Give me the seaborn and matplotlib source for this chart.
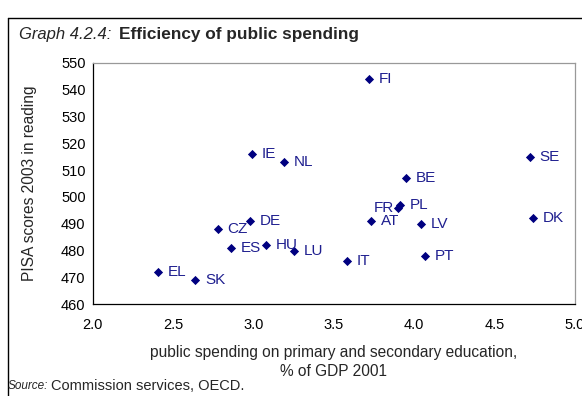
import matplotlib
matplotlib.use("Agg")
import matplotlib.pyplot as plt
import pandas as pd
import seaborn as sns

countries = ["FI", "IE", "NL", "SE", "BE", "FR", "PL", "DE", "AT", "LV", "DK",
             "CZ", "HU", "ES", "LU", "PT", "IT", "EL", "SK"]
spending = [3.72, 2.99, 3.19, 4.72, 3.95, 3.90, 3.91, 2.98, 3.73, 4.04, 4.74,
            2.78, 3.08, 2.86, 3.25, 4.07, 3.58, 2.41, 2.64]
pisa = [544, 516, 513, 515, 507, 496, 497, 491, 491, 490, 492,
        488, 482, 481, 480, 478, 476, 472, 469]

x_ticks = [2.0, 2.5, 3.0, 3.5, 4.0, 4.5, 5.0]
y_ticks = list(range(460, 551, 10))

df = pd.DataFrame({"country": countries, "spending": spending, "pisa": pisa})

sns.set_style("white")
plt.rcParams["font.family"] = ["Liberation Sans", "DejaVu Sans"]

navy = "#000080"
label_col = "#1f1f8f"

fig = plt.figure(figsize=(5.82, 3.96), dpi=100)
ax = fig.add_axes([0.159, 0.232, 0.829, 0.609])

sns.scatterplot(data=df, x="spending", y="pisa", marker="D", s=22,
                color=navy, edgecolor=navy, linewidth=0, ax=ax, legend=False)

for c, xv, yv in zip(countries, spending, pisa):
    if c == "FR":
        ax.annotate(c, (xv, yv), xytext=(-3, 0), textcoords="offset points",
                    ha="right", va="center", fontsize=11, color=label_col)
    else:
        ax.annotate(c, (xv, yv), xytext=(7, 0), textcoords="offset points",
                    ha="left", va="center", fontsize=11, color=label_col)

ax.set_xlim(2.0, 5.0)
ax.set_ylim(460, 550)
ax.set_xticks(x_ticks)
ax.set_xticklabels([f"{t:.1f}" for t in x_ticks])
ax.set_yticks(y_ticks)
ax.tick_params(axis="both", direction="inout", length=6, width=0.8,
               labelsize=10.5, colors="black", pad=2)
ax.tick_params(axis="x", pad=7)

for side in ["left", "bottom"]:
    ax.spines[side].set_color("black")
    ax.spines[side].set_linewidth(0.9)
for side in ["top", "right"]:
    ax.spines[side].set_color("#999999")
    ax.spines[side].set_linewidth(0.9)

ax.set_xlabel("public spending on primary and secondary education,\n% of GDP 2001",
              fontsize=11.2, labelpad=9, linespacing=1.35)
ax.set_ylabel("PISA scores 2003 in reading", fontsize=11.2, labelpad=17)

# title and source
fig.text(19 / 582, 1 - 35 / 396, "Graph 4.2.4:", fontsize=12, style="italic",
         va="center", ha="left")
fig.text(119 / 582, 1 - 35 / 396, "Efficiency of public spending", fontsize=12.4,
         weight="bold", va="center", ha="left")
fig.text(8 / 582, 1 - 386 / 396, "Source:", fontsize=8.5, style="italic",
         va="center", ha="left")
fig.text(51 / 582, 1 - 386 / 396, "Commission services, OECD.", fontsize=10.5,
         va="center", ha="left")

# frame around the figure (open at right/bottom)
fig.add_artist(plt.Line2D([8 / 582, 8 / 582], [0, 1 - 18 / 396],
                          color="black", linewidth=1, transform=fig.transFigure))
fig.add_artist(plt.Line2D([8 / 582, 1], [1 - 18 / 396, 1 - 18 / 396],
                          color="black", linewidth=1, transform=fig.transFigure))

fig.savefig("out.png", dpi=100)
